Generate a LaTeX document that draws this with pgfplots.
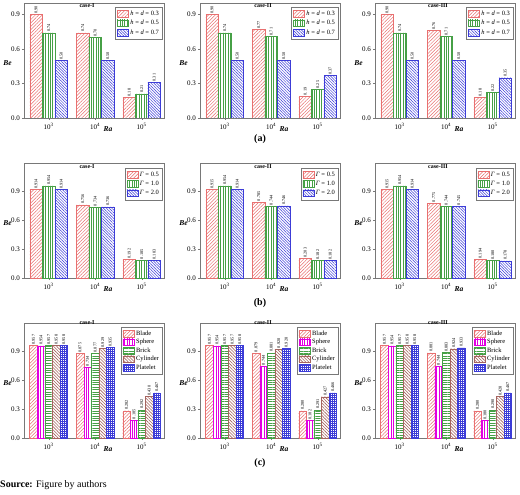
\documentclass[border=0pt]{standalone}
\usepackage{pgfplots}
\pgfplotsset{compat=1.18}
\usepackage{fontspec}
\setmainfont{Liberation Serif}
\usetikzlibrary{patterns.meta}

\definecolor{cred}{RGB}{232,112,112}
\definecolor{cgreen}{RGB}{70,160,70}
\definecolor{cblue}{RGB}{60,60,215}
\definecolor{cmag}{RGB}{225,0,225}
\definecolor{cbrown}{RGB}{165,100,95}
\definecolor{cframe}{RGB}{120,120,120}

\pgfplotsset{
  beplot/.style={
    scale only axis, width=140pt, height=115pt,
    ybar=0pt, ymin=0, xmin=-0.53, xmax=2.48,
    xtick={0,1,2},
    xticklabels={10\textsuperscript{3},10\textsuperscript{4},10\textsuperscript{5}},
    ytick={0,0.3,0.6,0.9},
    yticklabel style={/pgf/number format/.cd,fixed,fixed zerofill,precision=1,assume math mode=true,
      /tikz/.cd, xshift=1.5pt},
    tick label style={font=\fontsize{7}{8}\selectfont},
    axis line style={cframe},
    tick style={cframe},
    tick align=outside, tick pos=left, major tick length=2pt,
    xlabel={\textbf{\textit{Ra}}}, ylabel={\textbf{\textit{Be}}},
    xlabel style={at={(axis description cs:0.6,0)}, anchor=north, yshift=-5pt, font=\fontsize{7.5}{8}\selectfont},
    ylabel style={rotate=-90, at={(axis description cs:-0.118,0.48)}, anchor=center, font=\fontsize{7.5}{9}\selectfont},
    title style={anchor=center, font=\bfseries\fontsize{6}{7}\selectfont},
    legend style={at={(0.99,0.965)}, anchor=north east, draw=cframe, font=\fontsize{6.5}{7.5}\selectfont,
      row sep=-0.5pt, inner sep=1.5pt},
    legend cell align=left,
    legend image code/.code={\draw[##1] (0pt,-3pt) rectangle (11pt,3.5pt);},
    every node near coord/.append style={rotate=90, anchor=west, font=\fontsize{4.3}{5}\selectfont, inner sep=0.8pt, black},
  },
  nnc/.style={nodes near coords={\pgfmathprintnumber[fixed,fixed zerofill,precision=#1,assume math mode=true]{\pgfplotspointmeta}}},
  sRed/.style={draw=cred, pattern={Lines[angle=45,distance=2.4pt,line width=0.5pt]}, pattern color=cred},
  sGreen/.style={draw=cgreen, pattern={Lines[angle=90,distance=2.4pt,line width=0.7pt]}, pattern color=cgreen},
  sBlue/.style={draw=cblue, pattern={Lines[angle=-45,distance=2pt,line width=0.5pt]}, pattern color=cblue},
  sMag/.style={draw=cmag, pattern={Lines[angle=90,distance=2.4pt,line width=0.7pt]}, pattern color=cmag},
  sHGreen/.style={draw=cgreen, pattern={Lines[angle=0,distance=2.4pt,line width=0.5pt]}, pattern color=cgreen},
  sBrown/.style={draw=cbrown, pattern={Lines[angle=-45,distance=2.2pt,line width=0.6pt]}, pattern color=cbrown},
  sGrid/.style={draw=cblue, pattern={Hatch[angle=0,distance=2pt,line width=0.4pt]}, pattern color=cblue},
  rowA/.style={beplot, ymax=1.0, bar width=0.27, nnc=2,
    title style={at={(axis description cs:0.45,0.925)}}},
  rowB/.style={beplot, ymax=1.19, bar width=0.27, nnc=3,
    title style={at={(axis description cs:0.45,0.915)}},
    legend style={at={(0.99,0.955)}}},
  rowC/.style={beplot, ymax=1.19, bar width=0.163, nnc=3,
    title style={at={(axis description cs:0.45,0.955)}},
    legend style={row sep=-1.5pt}},
}

\begin{document}
\begin{tikzpicture}
\useasboundingbox (0pt,0pt) rectangle (520pt,-495pt);

% ---------- (a) effect of h = d ----------
\begin{axis}[rowA, at={(24pt,-3pt)}, anchor=north west, title={case-I}]
\addplot[sRed]   coordinates {(0,0.90) (1,0.74) (2,0.18)};
\addplot[sGreen] coordinates {(0,0.74) (1,0.70) (2,0.21)};
\addplot[sBlue]  coordinates {(0,0.50) (1,0.50) (2,0.31)};
\addlegendentry{\textit{h} = \textit{d} = 0.3}
\addlegendentry{\textit{h} = \textit{d} = 0.5}
\addlegendentry{\textit{h} = \textit{d} = 0.7}
\end{axis}

\begin{axis}[rowA, at={(200pt,-3pt)}, anchor=north west, title={case-II}]
\addplot[sRed]   coordinates {(0,0.90) (1,0.77) (2,0.19)};
\addplot[sGreen] coordinates {(0,0.74) (1,0.71) (2,0.25)};
\addplot[sBlue]  coordinates {(0,0.50) (1,0.50) (2,0.37)};
\addlegendentry{\textit{h} = \textit{d} = 0.3}
\addlegendentry{\textit{h} = \textit{d} = 0.5}
\addlegendentry{\textit{h} = \textit{d} = 0.7}
\end{axis}

\begin{axis}[rowA, at={(375pt,-3pt)}, anchor=north west, title={case-III}]
\addplot[sRed]   coordinates {(0,0.90) (1,0.76) (2,0.18)};
\addplot[sGreen] coordinates {(0,0.74) (1,0.71) (2,0.22)};
\addplot[sBlue]  coordinates {(0,0.50) (1,0.50) (2,0.35)};
\addlegendentry{\textit{h} = \textit{d} = 0.3}
\addlegendentry{\textit{h} = \textit{d} = 0.5}
\addlegendentry{\textit{h} = \textit{d} = 0.7}
\end{axis}

\node[font=\bfseries\fontsize{10}{12}\selectfont] at (260pt,-139pt) {(a)};

% ---------- (b) effect of Gamma ----------
\begin{axis}[rowB, at={(24pt,-163pt)}, anchor=north west, title={case-I}]
\addplot[sRed]   coordinates {(0,0.914) (1,0.756) (2,0.192)};
\addplot[sGreen] coordinates {(0,0.954) (1,0.734) (2,0.185)};
\addplot[sBlue]  coordinates {(0,0.914) (1,0.736) (2,0.183)};
\addlegendentry{\textit{Γ} = 0.5}
\addlegendentry{\textit{Γ} = 1.0}
\addlegendentry{\textit{Γ} = 2.0}
\end{axis}

\begin{axis}[rowB, at={(200pt,-163pt)}, anchor=north west, title={case-II}]
\addplot[sRed]   coordinates {(0,0.915) (1,0.785) (2,0.203)};
\addplot[sGreen] coordinates {(0,0.954) (1,0.744) (2,0.182)};
\addplot[sBlue]  coordinates {(0,0.914) (1,0.746) (2,0.182)};
\addlegendentry{\textit{Γ} = 0.5}
\addlegendentry{\textit{Γ} = 1.0}
\addlegendentry{\textit{Γ} = 2.0}
\end{axis}

\begin{axis}[rowB, at={(375pt,-163pt)}, anchor=north west, title={case-III}]
\addplot[sRed]   coordinates {(0,0.915) (1,0.775) (2,0.194)};
\addplot[sGreen] coordinates {(0,0.954) (1,0.744) (2,0.180)};
\addplot[sBlue]  coordinates {(0,0.914) (1,0.745) (2,0.178)};
\addlegendentry{\textit{Γ} = 0.5}
\addlegendentry{\textit{Γ} = 1.0}
\addlegendentry{\textit{Γ} = 2.0}
\end{axis}

\node[font=\bfseries\fontsize{10}{12}\selectfont] at (260pt,-303pt) {(b)};

% ---------- (c) effect of particle shape ----------
\begin{axis}[rowC, at={(24pt,-323pt)}, anchor=north west, title={case-I}]
\addplot[sRed]    coordinates {(0,0.957) (1,0.875) (2,0.282)};
\addplot[sMag]    coordinates {(0,0.954) (1,0.734) (2,0.185)};
\addplot[sHGreen] coordinates {(0,0.957) (1,0.877) (2,0.292)};
\addplot[sBrown]  coordinates {(0,0.958) (1,0.929) (2,0.430)};
\addplot[sGrid]   coordinates {(0,0.958) (1,0.935) (2,0.467)};
\legend{Blade,Sphere,Brick,Cylinder,Platelet}
\end{axis}

\begin{axis}[rowC, at={(200pt,-323pt)}, anchor=north west, title={case-II}]
\addplot[sRed]    coordinates {(0,0.957) (1,0.879) (2,0.280)};
\addplot[sMag]    coordinates {(0,0.954) (1,0.744) (2,0.182)};
\addplot[sHGreen] coordinates {(0,0.957) (1,0.881) (2,0.291)};
\addplot[sBrown]  coordinates {(0,0.957) (1,0.920) (2,0.427)};
\addplot[sGrid]   coordinates {(0,0.958) (1,0.928) (2,0.466)};
\legend{Blade,Sphere,Brick,Cylinder,Platelet}
\end{axis}

\begin{axis}[rowC, at={(375pt,-323pt)}, anchor=north west, title={case-III}]
\addplot[sRed]    coordinates {(0,0.957) (1,0.881) (2,0.280)};
\addplot[sMag]    coordinates {(0,0.954) (1,0.744) (2,0.180)};
\addplot[sHGreen] coordinates {(0,0.957) (1,0.883) (2,0.290)};
\addplot[sBrown]  coordinates {(0,0.958) (1,0.924) (2,0.428)};
\addplot[sGrid]   coordinates {(0,0.958) (1,0.933) (2,0.467)};
\legend{Blade,Sphere,Brick,Cylinder,Platelet}
\end{axis}

\node[font=\bfseries\fontsize{10}{12}\selectfont] at (260pt,-463pt) {(c)};

\node[anchor=west, inner sep=0pt, font=\fontsize{10}{12}\selectfont] at (0pt,-485pt) {\textbf{Source:} Figure by authors};
\end{tikzpicture}
\end{document}
